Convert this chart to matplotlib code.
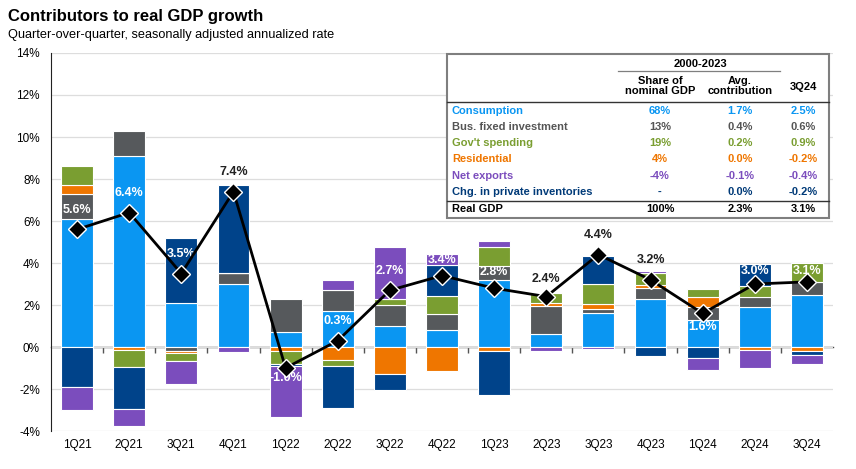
"""Contributors to real GDP growth, 1Q21-3Q24, stacked bars + real GDP line."""
import matplotlib

matplotlib.use("Agg")
import matplotlib.pyplot as plt  # noqa: E402
import numpy as np  # noqa: E402
from matplotlib.patches import Rectangle  # noqa: E402

plt.rcParams["font.family"] = ["Liberation Sans", "DejaVu Sans"]

# --- data (percentage-point contributions, SAAR) ---
quarters = ["1Q21", "2Q21", "3Q21", "4Q21", "1Q22", "2Q22", "3Q22", "4Q22",
            "1Q23", "2Q23", "3Q23", "4Q23", "1Q24", "2Q24", "3Q24"]
consumption = [6.1, 9.1, 2.1, 3.0, 0.7, 1.7, 1.0, 0.8, 3.2, 0.6, 1.6, 2.3, 1.3, 1.9, 2.5]
bus_fixed = [1.2, 1.2, -0.2, 0.5, 1.6, 1.0, 1.0, 0.75, 0.65, 1.35, 0.2, 0.5, 0.6, 0.5, 0.6]
residential = [0.4, -0.15, -0.1, 0.0, -0.2, -0.6, -1.3, -1.15, -0.2, 0.15, 0.25, 0.15, 0.5, -0.13, -0.2]
gov_spending = [0.9, -0.8, -0.35, 0.0, -0.6, -0.3, 0.3, 0.9, 0.9, 0.45, 0.95, 0.55, 0.35, 0.5, 0.9]
inventories = [-1.9, -2.0, 3.1, 4.2, -0.1, -2.0, -0.75, 1.45, -2.1, 0.0, 1.35, -0.45, -0.5, 1.05, -0.2]
net_exports = [-1.1, -0.8, -1.1, -0.25, -2.45, 0.5, 2.45, 0.55, 0.3, -0.2, -0.08, 0.1, -0.6, -0.85, -0.4]
real_gdp = [5.6, 6.4, 3.5, 7.4, -1.0, 0.3, 2.7, 3.4, 2.8, 2.4, 4.4, 3.2, 1.6, 3.0, 3.1]

# table (2000-2023 averages and latest quarter)
table_labels = ["Consumption", "Bus. fixed investment", "Gov't spending", "Residential",
                "Net exports", "Chg. in private inventories"]
table_share = ["68%", "13%", "19%", "4%", "-4%", "-"]
table_avg = ["1.7%", "0.4%", "0.2%", "0.0%", "-0.1%", "0.0%"]
table_latest = ["2.5%", "0.6%", "0.9%", "-0.2%", "-0.4%", "-0.2%"]
total_row = ["Real GDP", "100%", "2.3%", "3.1%"]

# --- styles ---
C_CONS = "#0a96f2"
C_BUS = "#56595c"
C_RES = "#ef7600"
C_GOV = "#7a9e31"
C_INV = "#00438a"
C_NX = "#7b4dbd"
series = [(consumption, C_CONS), (bus_fixed, C_BUS), (residential, C_RES),
          (gov_spending, C_GOV), (inventories, C_INV), (net_exports, C_NX)]
table_colors = [C_CONS, "#555555", C_GOV, C_RES, C_NX, "#003a78"]

dark_labels = {"4Q21", "2Q23", "3Q23", "4Q23"}
label_offset = [14, 14, 14, 14, -7.5, 14, 14, 11, 12, 13, 14, 14, -9.5, 9.5, 8]

W, H = 856, 469


def px(x, y):
    return x / W, 1 - y / H


fig = plt.figure(figsize=(W / 100, H / 100), dpi=100)
ax = fig.add_axes([51 / W, 38 / H, (833 - 51) / W, (431 - 53) / H])

x = np.arange(len(quarters))
pos_bottom = np.zeros(len(quarters))
neg_bottom = np.zeros(len(quarters))
for vals, color in series:
    v = np.array(vals, dtype=float)
    bottom = np.where(v >= 0, pos_bottom, neg_bottom)
    ax.bar(x, v, 0.61, bottom=bottom, color=color, edgecolor="white", linewidth=0.8, zorder=2)
    pos_bottom += np.clip(v, 0, None)
    neg_bottom += np.clip(v, None, 0)

ax.plot(x, real_gdp, color="black", lw=2, marker="D", ms=9, mfc="black",
        mec="white", mew=1, zorder=5)
for i, (q, v) in enumerate(zip(quarters, real_gdp)):
    dark = q in dark_labels
    ax.annotate(f"{v:.1f}%", (x[i], v), xytext=(0, label_offset[i]), textcoords="offset points",
                ha="center", va="center", fontsize=9,
                color="#222222" if dark else "white", fontweight="bold", zorder=4)

ymin, ymax = -4, 14
ax.set_xlim(-0.5, len(quarters) - 0.5)
ax.set_ylim(ymin, ymax)
ax.set_yticks(np.arange(ymin, ymax + 1, 2))
ax.set_yticklabels([f"{t}%" for t in range(ymin, ymax + 1, 2)], fontsize=8.5)
ax.set_xticks(x)
ax.set_xticklabels(quarters, fontsize=8.5)
ax.tick_params(axis="x", length=0, pad=6)
ax.tick_params(axis="y", length=0, pad=8)
ax.grid(axis="y", color="#dddddd", lw=0.9, zorder=0)
ax.set_axisbelow(True)
for s in ("top", "right", "bottom"):
    ax.spines[s].set_visible(False)
ax.spines["left"].set_color("#222222")

# zero line with category-boundary ticks
zero = ax.secondary_xaxis((0 - ymin) / (ymax - ymin))
zero.set_xticks(np.arange(0.5, len(quarters) - 0.5, 1))
zero.set_xticklabels([])
zero.tick_params(direction="out", length=4, color="#555555", width=1)
zero.spines["bottom"].set_color("#444444")
zero.spines["bottom"].set_linewidth(1)

fig.text(*px(8, 17), "Contributors to real GDP growth", fontsize=12, fontweight="bold",
         va="center", ha="left")
fig.text(*px(8, 35), "Quarter-over-quarter, seasonally adjusted annualized rate",
         fontsize=9.2, va="center", ha="left")

# --- table ---
tx0, tx1, ty0, ty1 = 447, 829, 54, 218
fig.patches.append(Rectangle(px(tx0, ty1), (tx1 - tx0) / W, (ty1 - ty0) / H,
                             transform=fig.transFigure, facecolor="white",
                             edgecolor="#7f7f7f", lw=1.5, zorder=3))
fs = 8
col_x = [660, 740, 803]
fig.text(*px(700, 64), "2000-2023", fontsize=fs, fontweight="bold", ha="center", va="center", zorder=4)
fig.lines.append(plt.Line2D([618 / W, 780 / W], [1 - 71 / H] * 2, transform=fig.transFigure,
                            color="#7f7f7f", lw=0.9, zorder=4))
fig.text(*px(col_x[0], 86), "Share of\nnominal GDP", fontsize=fs, fontweight="bold",
         ha="center", va="center", linespacing=1.0, zorder=4)
fig.text(*px(col_x[1], 86), "Avg.\ncontribution", fontsize=fs, fontweight="bold",
         ha="center", va="center", linespacing=1.0, zorder=4)
fig.text(*px(col_x[2], 87), "3Q24", fontsize=fs, fontweight="bold", ha="center", va="center", zorder=4)
fig.lines.append(plt.Line2D([tx0 / W, tx1 / W], [1 - 102 / H] * 2, transform=fig.transFigure,
                            color="#333333", lw=1.0, zorder=4))
row_y = [111, 127, 143, 159, 176, 192]
for yy, lab, c, a, b, d in zip(row_y, table_labels, table_colors, table_share, table_avg, table_latest):
    fig.text(*px(452, yy), lab, fontsize=fs, fontweight="bold", color=c, ha="left", va="center", zorder=4)
    for cx, val in zip(col_x, (a, b, d)):
        fig.text(*px(cx, yy), val, fontsize=fs, fontweight="bold", color=c, ha="center",
                 va="center", zorder=4)
fig.lines.append(plt.Line2D([tx0 / W, tx1 / W], [1 - 201 / H] * 2, transform=fig.transFigure,
                            color="#333333", lw=1.0, zorder=4))
fig.text(*px(452, 209), total_row[0], fontsize=fs, fontweight="bold", ha="left", va="center", zorder=4)
for cx, val in zip(col_x, total_row[1:]):
    fig.text(*px(cx, 209), val, fontsize=fs, fontweight="bold", ha="center", va="center", zorder=4)

fig.savefig("out.png", dpi=100)
